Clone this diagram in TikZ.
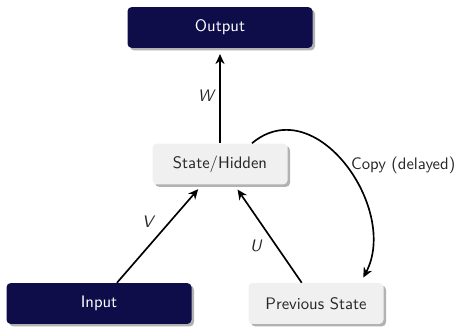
\documentclass[tikz,border=0pt]{standalone}
\usepackage{amsmath}
\usepackage{tikz}
\usetikzlibrary{positioning}
\usetikzlibrary{arrows.meta,shadows}
\definecolor{navy}{RGB}{14,13,74}
\definecolor{boxgray}{RGB}{240,240,240}

\begin{document}
\begin{tikzpicture}[x=0.6pt,y=0.6pt,font=\sffamily,
	box/.style={rectangle,rounded corners=2.5pt,minimum height=24.5pt,
		drop shadow={shadow xshift=1.5pt,shadow yshift=-1.5pt,fill=black!30,opacity=1}},
	darkbox/.style={box,fill=navy,text=white,minimum width=111pt},
	lightbox/.style={box,fill=boxgray,text=black!85,minimum width=81pt},
	arr/.style={-{Stealth[length=6pt,width=5.5pt]},line width=1pt,shorten >=3.5pt},
	lbl/.style={text=black!85,font=\sffamily\itshape}]
	\useasboundingbox (0,0) rectangle (455,327);
	\node[darkbox] (output) at (220,299.5) {Output};
	\node[lightbox] (state) at (220,163) {State/Hidden};
	\node[darkbox] (input) at (99,23.5) {Input};
	\node[lightbox] (prev) at (316,23.5) {Previous State};
	\draw[arr] (state) -- (output) node[midway,left,lbl]{W};
	\draw[arr] (input) -- (state) node[midway,above left,lbl]{V};
	\draw[arr] (prev) -- (state) node[midway,below left,lbl]{U};
	\draw[arr] (state.33) to[out=40,in=62,looseness=1.2] node[midway,right,text=black!85]{Copy (delayed)} (prev.25);
\end{tikzpicture}
\end{document}
